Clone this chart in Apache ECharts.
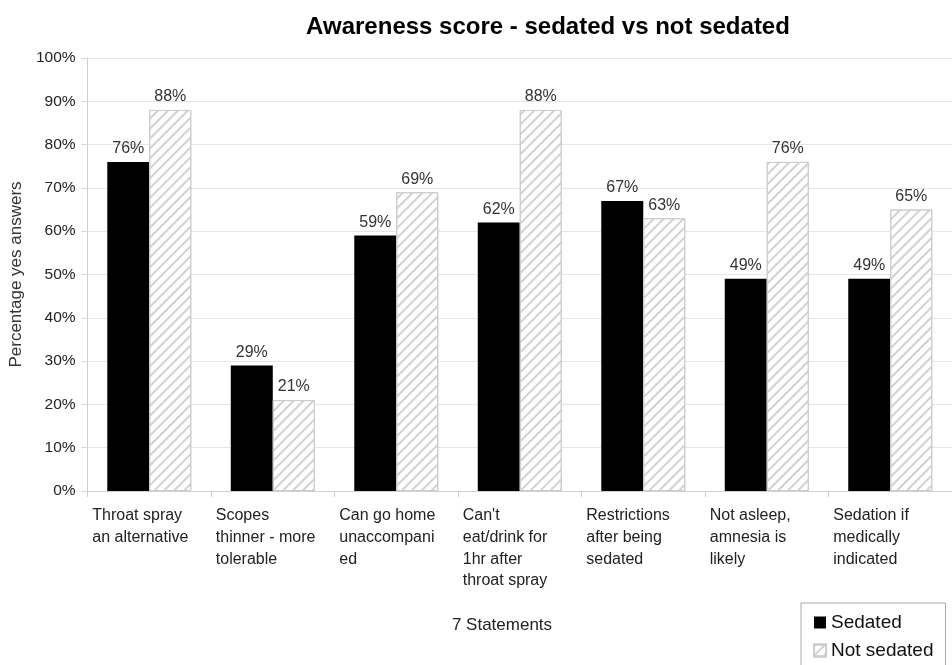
<!DOCTYPE html>
<html>
<head>
<meta charset="utf-8">
<script src="https://cdn.jsdelivr.net/npm/echarts@6/dist/echarts.min.js"></script>
<style>
  html, body { margin: 0; padding: 0; background: #fff; }
  #chart { width: 952px; height: 665px; }
</style>
</head>
<body>
<div id="chart"></div>
<script>
var statements = [
  'Throat spray\nan alternative',
  'Scopes\nthinner - more\ntolerable',
  'Can go home\nunaccompani\ned',
  "Can't\neat/drink for\n1hr after\nthroat spray",
  'Restrictions\nafter being\nsedated',
  'Not asleep,\namnesia is\nlikely',
  'Sedation if\nmedically\nindicated'
];
var sedated = [76, 29, 59, 62, 67, 49, 49];
var notSedated = [88, 21, 69, 88, 63, 76, 65];
var yTicks = [0, 10, 20, 30, 40, 50, 60, 70, 80, 90, 100];

var font = 'Liberation Sans, Arial, sans-serif';
var myChart = echarts.init(document.getElementById('chart'));

var hatch = {
  symbol: 'rect',
  symbolSize: 1,
  color: '#d2d2d2',
  dashArrayX: [1, 0],
  dashArrayY: [1.2, 4.5],
  rotation: -Math.PI / 4
};

var option = {
  backgroundColor: '#fff',
  animation: false,
  textStyle: { fontFamily: font },
  title: [{
    text: 'Awareness score - sedated vs not sedated',
    left: 543,
    top: 10,
    textAlign: 'center',
    textStyle: { fontSize: 24, fontWeight: 'bold', color: '#000', fontFamily: font }
  }, {
    text: '7 Statements',
    left: 497,
    top: 612,
    textAlign: 'center',
    textStyle: { fontSize: 17, fontWeight: 'normal', color: '#222', fontFamily: font }
  }],
  legend: {
    orient: 'vertical',
    left: 801,
    top: 603,
    height: 90,
    padding: [10, 12, 12, 12],
    itemGap: 9,
    itemWidth: 12,
    itemHeight: 12,
    icon: 'rect',
    borderColor: '#aaa',
    borderWidth: 1,
    borderRadius: 0,
    textStyle: { fontSize: 19, color: '#111', fontFamily: font },
    data: ['Sedated', 'Not sedated']
  },
  grid: { left: 86, top: 58, width: 880, height: 433 },
  xAxis: {
    type: 'category',
    data: statements,
    axisLine: { lineStyle: { color: '#d0d0d0' } },
    axisTick: { show: true, length: 6, lineStyle: { color: '#d0d0d0' } },
    axisLabel: {
      margin: 14,
      interval: 0,
      formatter: function (v) {
        return v.split('\n').map(function (s) { return '{a|' + s + '}'; }).join('\n');
      },
      rich: {
        a: { width: 114, align: 'left', fontSize: 16, lineHeight: 21.7, color: '#222', fontFamily: font }
      }
    }
  },
  yAxis: {
    type: 'value',
    min: yTicks[0],
    max: yTicks[yTicks.length - 1],
    interval: 10,
    name: 'Percentage yes answers',
    nameLocation: 'middle',
    nameGap: 60,
    nameTextStyle: { fontSize: 17, color: '#333', fontFamily: font },
    axisLine: { show: true, lineStyle: { color: '#d0d0d0' } },
    axisTick: { show: true, length: 6, lineStyle: { color: '#d8d8d8' } },
    splitLine: { lineStyle: { color: '#e6e6e6' } },
    axisLabel: { fontSize: 15.5, color: '#222', margin: 12, formatter: '{value}%' }
  },
  series: [{
    name: 'Sedated',
    type: 'bar',
    data: sedated,
    barWidth: 42,
    barGap: '0%',
    itemStyle: { color: '#000' },
    label: { show: true, position: 'top', distance: 5, formatter: '{c}%', fontSize: 16, color: '#333' }
  }, {
    name: 'Not sedated',
    type: 'bar',
    data: notSedated,
    barWidth: 42,
    itemStyle: {
      color: '#fff',
      borderColor: '#cccccc',
      borderWidth: 1,
      decal: hatch
    },
    label: { show: true, position: 'top', distance: 5, formatter: '{c}%', fontSize: 16, color: '#333' }
  }]
};
myChart.setOption(option);
window.addEventListener('resize', function () { myChart.resize(); });
</script>
</body>
</html>
